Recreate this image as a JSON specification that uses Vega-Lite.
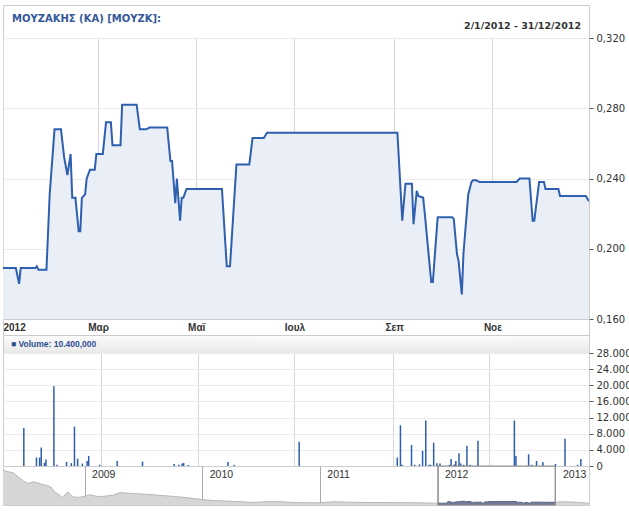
{
  "$schema": "https://vega.github.io/schema/vega-lite/v6.json",
  "background": "white",
  "padding": {"left": 0, "top": 4, "right": 0, "bottom": 0},
  "bounds": "flush",
  "spacing": 0,
  "resolve": {"scale": {"x": "independent", "y": "independent"}},
  "config": {"view": {"stroke": "#cccccc"}},
  "datasets": {
    "price": [
      {"date":"2012-01-02","price":0.189},{"date":"2012-01-10","price":0.189},{"date":"2012-01-12","price":0.180},{"date":"2012-01-13","price":0.189},
      {"date":"2012-01-22","price":0.189},{"date":"2012-01-23","price":0.190},{"date":"2012-01-24","price":0.188},{"date":"2012-01-29","price":0.188},
      {"date":"2012-01-31","price":0.231},{"date":"2012-02-03","price":0.268},{"date":"2012-02-07","price":0.268},{"date":"2012-02-09","price":0.252},
      {"date":"2012-02-11","price":0.242},{"date":"2012-02-13","price":0.254},{"date":"2012-02-14","price":0.229},{"date":"2012-02-16","price":0.229},
      {"date":"2012-02-18","price":0.210},{"date":"2012-02-19","price":0.210},{"date":"2012-02-20","price":0.229},{"date":"2012-02-22","price":0.231},
      {"date":"2012-02-23","price":0.240},{"date":"2012-02-25","price":0.245},{"date":"2012-02-28","price":0.245},{"date":"2012-02-29","price":0.254},
      {"date":"2012-03-04","price":0.254},{"date":"2012-03-06","price":0.272},{"date":"2012-03-09","price":0.272},{"date":"2012-03-10","price":0.259},
      {"date":"2012-03-15","price":0.259},{"date":"2012-03-16","price":0.282},{"date":"2012-03-25","price":0.282},{"date":"2012-03-27","price":0.268},
      {"date":"2012-03-31","price":0.268},{"date":"2012-04-02","price":0.269},{"date":"2012-04-13","price":0.269},{"date":"2012-04-15","price":0.250},
      {"date":"2012-04-16","price":0.250},{"date":"2012-04-18","price":0.226},{"date":"2012-04-19","price":0.240},{"date":"2012-04-21","price":0.216},
      {"date":"2012-04-22","price":0.229},{"date":"2012-04-23","price":0.229},{"date":"2012-04-25","price":0.234},{"date":"2012-05-17","price":0.234},
      {"date":"2012-05-20","price":0.190},{"date":"2012-05-22","price":0.190},{"date":"2012-05-26","price":0.248},{"date":"2012-06-03","price":0.248},
      {"date":"2012-06-05","price":0.263},{"date":"2012-06-12","price":0.263},{"date":"2012-06-14","price":0.266},{"date":"2012-09-03","price":0.266},
      {"date":"2012-09-06","price":0.216},{"date":"2012-09-08","price":0.237},{"date":"2012-09-12","price":0.237},{"date":"2012-09-13","price":0.214},
      {"date":"2012-09-15","price":0.233},{"date":"2012-09-16","price":0.230},{"date":"2012-09-19","price":0.229},{"date":"2012-09-20","price":0.220},
      {"date":"2012-09-24","price":0.181},{"date":"2012-09-25","price":0.181},{"date":"2012-09-28","price":0.218},{"date":"2012-10-07","price":0.218},
      {"date":"2012-10-08","price":0.217},{"date":"2012-10-10","price":0.197},{"date":"2012-10-11","price":0.193},{"date":"2012-10-13","price":0.174},
      {"date":"2012-10-14","price":0.197},{"date":"2012-10-17","price":0.231},{"date":"2012-10-19","price":0.238},{"date":"2012-10-20","price":0.239},
      {"date":"2012-10-22","price":0.239},{"date":"2012-10-24","price":0.238},{"date":"2012-11-16","price":0.238},{"date":"2012-11-18","price":0.240},
      {"date":"2012-11-24","price":0.240},{"date":"2012-11-26","price":0.216},{"date":"2012-11-27","price":0.216},{"date":"2012-11-30","price":0.238},
      {"date":"2012-12-03","price":0.238},{"date":"2012-12-04","price":0.234},{"date":"2012-12-12","price":0.234},{"date":"2012-12-13","price":0.230},
      {"date":"2012-12-29","price":0.230},{"date":"2012-12-31","price":0.227}
    ],
    "volume": [
      {"date":"2012-01-12","volume":9400},{"date":"2012-01-20","volume":2100},{"date":"2012-01-22","volume":2100},{"date":"2012-01-23","volume":4600},
      {"date":"2012-01-25","volume":800},{"date":"2012-01-26","volume":1600},{"date":"2012-01-31","volume":19750},{"date":"2012-02-02","volume":300},
      {"date":"2012-02-08","volume":1000},{"date":"2012-02-11","volume":700},{"date":"2012-02-13","volume":9750},{"date":"2012-02-15","volume":1800},
      {"date":"2012-02-18","volume":600},{"date":"2012-02-21","volume":1250},{"date":"2012-02-22","volume":2500},{"date":"2012-02-29","volume":300},
      {"date":"2012-03-11","volume":1250},{"date":"2012-03-27","volume":1100},{"date":"2012-04-16","volume":500},{"date":"2012-04-19","volume":300},
      {"date":"2012-04-21","volume":600},{"date":"2012-04-22","volume":750},{"date":"2012-04-25","volume":250},{"date":"2012-05-20","volume":1000},
      {"date":"2012-05-24","volume":300},{"date":"2012-07-04","volume":6000},{"date":"2012-09-04","volume":2100},{"date":"2012-09-06","volume":10100},
      {"date":"2012-09-07","volume":300},{"date":"2012-09-13","volume":5200},{"date":"2012-09-15","volume":300},{"date":"2012-09-18","volume":400},
      {"date":"2012-09-20","volume":3750},{"date":"2012-09-22","volume":11250},{"date":"2012-09-24","volume":300},{"date":"2012-09-25","volume":300},
      {"date":"2012-09-27","volume":5750},{"date":"2012-09-29","volume":700},{"date":"2012-10-01","volume":600},{"date":"2012-10-07","volume":300},
      {"date":"2012-10-08","volume":1750},{"date":"2012-10-10","volume":400},{"date":"2012-10-11","volume":1250},{"date":"2012-10-13","volume":3150},
      {"date":"2012-10-14","volume":650},{"date":"2012-10-16","volume":300},{"date":"2012-10-18","volume":5000},{"date":"2012-10-20","volume":300},
      {"date":"2012-10-25","volume":6250},{"date":"2012-11-17","volume":11250},{"date":"2012-11-18","volume":2500},{"date":"2012-11-26","volume":2900},
      {"date":"2012-11-28","volume":300},{"date":"2012-12-01","volume":1250},{"date":"2012-12-05","volume":1000},{"date":"2012-12-13","volume":500},
      {"date":"2012-12-19","volume":6750},{"date":"2012-12-27","volume":300},{"date":"2012-12-29","volume":1750}
    ],
    "history": [
      {"date":"2008-04-23","price":1.80,"period":"a"},{"date":"2008-05-09","price":1.72,"period":"a"},{"date":"2008-05-25","price":1.67,"period":"a"},
      {"date":"2008-06-09","price":1.47,"period":"a"},{"date":"2008-06-25","price":1.27,"period":"a"},{"date":"2008-07-10","price":1.15,"period":"a"},
      {"date":"2008-07-26","price":1.23,"period":"a"},{"date":"2008-08-07","price":1.18,"period":"a"},{"date":"2008-08-21","price":1.11,"period":"a"},
      {"date":"2008-09-05","price":1.06,"period":"a"},{"date":"2008-09-18","price":0.98,"period":"a"},{"date":"2008-10-01","price":0.73,"period":"a"},
      {"date":"2008-10-14","price":0.60,"period":"a"},{"date":"2008-10-25","price":0.44,"period":"a"},{"date":"2008-11-02","price":0.62,"period":"a"},
      {"date":"2008-11-11","price":0.73,"period":"a"},{"date":"2008-11-20","price":0.57,"period":"a"},{"date":"2008-11-29","price":0.48,"period":"a"},
      {"date":"2008-12-17","price":0.48,"period":"a"},{"date":"2009-01-01","price":0.52,"period":"a"},{"date":"2009-01-17","price":0.60,"period":"a"},
      {"date":"2009-02-07","price":0.52,"period":"a"},{"date":"2009-02-28","price":0.52,"period":"a"},{"date":"2009-03-31","price":0.58,"period":"a"},
      {"date":"2009-04-20","price":0.70,"period":"a"},{"date":"2009-05-11","price":0.68,"period":"a"},{"date":"2009-06-11","price":0.65,"period":"a"},
      {"date":"2009-07-12","price":0.62,"period":"a"},{"date":"2009-08-23","price":0.57,"period":"a"},{"date":"2009-10-03","price":0.52,"period":"a"},
      {"date":"2009-11-13","price":0.46,"period":"a"},{"date":"2010-01-01","price":0.36,"period":"a"},{"date":"2010-02-04","price":0.32,"period":"a"},
      {"date":"2010-03-17","price":0.29,"period":"a"},{"date":"2010-04-28","price":0.26,"period":"a"},{"date":"2010-06-08","price":0.22,"period":"a"},
      {"date":"2010-07-20","price":0.26,"period":"a"},{"date":"2010-08-30","price":0.26,"period":"a"},{"date":"2010-10-10","price":0.22,"period":"a"},
      {"date":"2010-12-11","price":0.21,"period":"a"},{"date":"2011-01-03","price":0.21,"period":"a"},{"date":"2011-02-13","price":0.26,"period":"a"},
      {"date":"2011-03-27","price":0.24,"period":"a"},{"date":"2011-05-28","price":0.22,"period":"a"},{"date":"2011-07-29","price":0.22,"period":"a"},
      {"date":"2011-10-19","price":0.21,"period":"a"},{"date":"2011-12-30","price":0.19,"period":"a"},
      {"date":"2013-01-02","price":0.23,"period":"b"},{"date":"2013-01-20","price":0.26,"period":"b"},{"date":"2013-02-27","price":0.24,"period":"b"},
      {"date":"2013-03-20","price":0.22,"period":"b"},{"date":"2013-04-15","price":0.19,"period":"b"}
    ]
  },
  "vconcat": [
    {
      "width": 586,
      "height": 33,
      "data": {"values": []},
      "mark": "point",
      "view": {"stroke": "#cccccc", "fill": "white"},
      "title": {"text": "ΜΟΥΖΑΚΗΣ (ΚΑ) [ΜΟΥΖΚ]:", "anchor": "start", "frame": "group", "orient": "top", "offset": -27, "baseline": "alphabetic", "dx": 9, "font": "DejaVu Sans", "fontSize": 10, "fontWeight": "bold", "color": "#34579a"}
    },
    {
      "width": 586,
      "height": 281,
      "data": {"name": "price"},
      "title": {"text": "2/1/2012 - 31/12/2012", "anchor": "end", "frame": "group", "orient": "top", "offset": -5, "baseline": "alphabetic", "dx": -8, "font": "DejaVu Sans", "fontSize": 9.5, "fontWeight": "bold", "color": "#333333"},
      "encoding": {
        "x": {"field": "date", "type": "temporal",
          "scale": {"domain": [{"year": 2012, "month": 1, "date": 2}, {"year": 2012, "month": 12, "date": 31}]},
          "axis": {"title": null, "orient": "bottom",
            "values": [{"year": 2012, "month": 1, "date": 2}, {"year": 2012, "month": 3, "date": 1}, {"year": 2012, "month": 5, "date": 1}, {"year": 2012, "month": 7, "date": 1}, {"year": 2012, "month": 9, "date": 1}, {"year": 2012, "month": 11, "date": 1}],
            "labelExpr": "['2012','Φεβ','Μαρ','Απρ','Μαϊ','Ιουν','Ιουλ','Αυγ','Σεπ','Οκτ','Νοε','Δεκ'][month(datum.value)]",
            "labelFlush": true, "ticks": false, "domain": false, "grid": true, "gridColor": "#d6d6d6",
            "labelFont": "Liberation Sans", "labelFontSize": 10, "labelFontWeight": "bold", "labelColor": "#333333",
            "labelPadding": 3, "labelBaseline": "top"}},
        "y": {"field": "price", "type": "quantitative",
          "scale": {"domain": [0.16, 0.32], "zero": false},
          "axis": {"title": null, "orient": "right", "values": [0.16, 0.2, 0.24, 0.28, 0.32],
            "labelExpr": "replace(format(datum.value, '.3f'), '.', ',')",
            "grid": true, "gridColor": "#ebebeb", "domain": false, "tickSize": 4, "tickColor": "#555555",
            "labelPadding": 3, "labelFont": "DejaVu Sans", "labelFontSize": 10, "labelColor": "#333333"}}
      },
      "layer": [
        {"mark": {"type": "area", "color": "#e9eef7", "clip": true}},
        {"mark": {"type": "line", "color": "#2f5faf", "strokeWidth": 2, "clip": true}}
      ]
    },
    {
      "width": 586,
      "height": 16,
      "data": {"values": []},
      "mark": "point",
      "view": {"stroke": "#cccccc"}
    },
    {
      "width": 586,
      "height": 18,
      "data": {"values": []},
      "mark": "point",
      "view": {"stroke": "#cccccc", "fill": {"gradient": "linear", "x1": 0, "y1": 0, "x2": 0, "y2": 1, "stops": [{"offset": 0, "color": "#fcfcfc"}, {"offset": 1, "color": "#e8e8e8"}]}},
      "title": {"text": "■ Volume: 10.400,000", "anchor": "start", "frame": "group", "orient": "top", "offset": -17, "baseline": "middle", "dx": 8, "font": "Liberation Sans", "fontSize": 8.5, "fontWeight": "bold", "color": "#2d4f8f"}
    },
    {
      "width": 586,
      "height": 113,
      "data": {"name": "volume"},
      "mark": {"type": "bar", "size": 1.5, "color": "#2d5db0"},
      "encoding": {
        "x": {"field": "date", "type": "temporal",
          "scale": {"domain": [{"year": 2012, "month": 1, "date": 2}, {"year": 2012, "month": 12, "date": 31}]},
          "axis": {"title": null, "values": [{"year": 2012, "month": 3, "date": 1}, {"year": 2012, "month": 5, "date": 1}, {"year": 2012, "month": 7, "date": 1}, {"year": 2012, "month": 9, "date": 1}, {"year": 2012, "month": 11, "date": 1}],
            "labels": false, "ticks": false, "domain": false, "grid": true, "gridColor": "#d6d6d6"}},
        "y": {"field": "volume", "type": "quantitative",
          "scale": {"domain": [0, 28000]},
          "axis": {"title": null, "orient": "right", "values": [0, 4000, 8000, 12000, 16000, 20000, 24000, 28000],
            "labelExpr": "replace(format(datum.value, ',d'), ',', '.')",
            "grid": true, "gridColor": "#ebebeb", "domain": false, "tickSize": 4, "tickColor": "#555555",
            "labelPadding": 3, "labelFont": "DejaVu Sans", "labelFontSize": 10, "labelColor": "#333333"}}
      }
    },
    {
      "width": 586,
      "height": 39,
      "view": {"stroke": "#cccccc"},
      "encoding": {
        "x": {"field": "date", "type": "temporal",
          "scale": {"domain": [{"year": 2008, "month": 4, "date": 23}, {"year": 2013, "month": 4, "date": 15}]},
          "axis": {"title": null, "orient": "top", "tickCount": {"interval": "year", "step": 1}, "format": "%Y",
            "grid": true, "gridColor": "#aaaaaa", "ticks": false, "domain": false,
            "labelAlign": "left", "labelBaseline": "middle", "labelPadding": -8, "labelOffset": 7,
            "labelFont": "Liberation Sans", "labelFontSize": 10.5, "labelColor": "#333333"}},
        "y": {"field": "price", "type": "quantitative", "stack": null,
          "scale": {"domain": [0.1, 2.0], "zero": false}, "axis": null}
      },
      "layer": [
        {"data": {"name": "history"}, "mark": {"type": "area", "color": "#d6d6d6"}, "encoding": {"detail": {"field": "period"}}},
        {"data": {"name": "history"}, "mark": {"type": "line", "color": "#b8b8b8", "strokeWidth": 1}, "encoding": {"detail": {"field": "period"}}},
        {"data": {"name": "price"}, "mark": {"type": "area", "color": "#707c99"}},
        {"data": {"name": "price"}, "mark": {"type": "line", "color": "#56627f", "strokeWidth": 1}},
        {"data": {"values": [{"start": "2012-01-02", "end": "2012-12-31"}]},
          "mark": {"type": "rect", "fill": null, "stroke": "#888888", "strokeWidth": 1},
          "encoding": {"x": {"field": "start", "type": "temporal"}, "x2": {"field": "end"}, "y": null}}
      ]
    }
  ]
}
